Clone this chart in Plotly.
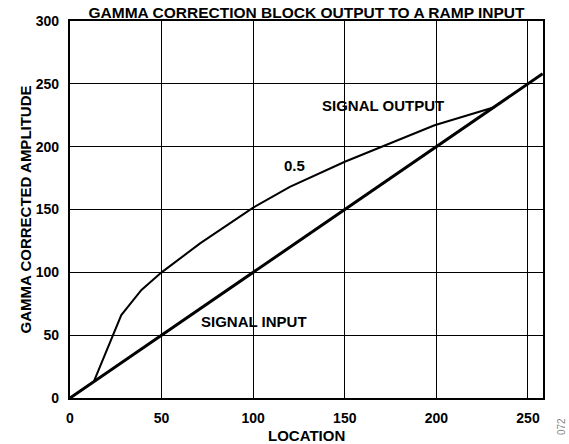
import plotly.graph_objects as go

# Ramp input (identity) and the gamma-corrected output (gamma = 0.5)
input_x = [0, 258]
input_y = [0, 258]

output_x = [0, 13, 28, 39, 50, 71, 100, 120, 150, 169, 199, 232]
output_y = [0, 13, 66, 86, 100, 123, 151.5, 168, 188, 199, 217, 231.5]

x_ticks = [0, 50, 100, 150, 200, 250]
y_ticks = [0, 50, 100, 150, 200, 250, 300]

FONT = "Liberation Sans, Arial, Helvetica, sans-serif"
W, H = 569, 444
L, R, T, B = 70, 26, 21, 46
pw, ph = W - L - R, H - T - B


def px_x(x):
    """Pixel column -> paper x."""
    return (x - L) / pw


def px_y(y):
    """Pixel row (from top) -> paper y."""
    return (H - B - y) / ph


fig = go.Figure()
fig.add_trace(go.Scatter(x=output_x, y=output_y, mode="lines",
                         line=dict(color="black", width=2), showlegend=False,
                         hoverinfo="skip"))
fig.add_trace(go.Scatter(x=input_x, y=input_y, mode="lines",
                         line=dict(color="black", width=3), showlegend=False,
                         hoverinfo="skip"))

bold = dict(family=FONT, color="black", weight="bold")

fig.update_layout(
    width=W, height=H,
    margin=dict(l=L, r=R, t=T, b=B, autoexpand=False),
    paper_bgcolor="white", plot_bgcolor="white",
    title=dict(text="GAMMA CORRECTION BLOCK OUTPUT TO A RAMP INPUT",
               font=dict(size=15.5, **bold),
               x=0.5, xref="paper", xanchor="center",
               y=1 - 12.7 / H, yref="container", yanchor="middle"),
    xaxis=dict(range=[0, 258.2], tickvals=x_ticks, showgrid=True,
               gridcolor="black", gridwidth=1.4, zeroline=False,
               showline=True, linecolor="black", linewidth=2.3, mirror=True,
               ticks="", ticklabelstandoff=6, automargin=False,
               tickfont=dict(size=14, **bold)),
    yaxis=dict(range=[0, 300], tickvals=y_ticks, showgrid=True,
               gridcolor="black", gridwidth=1.4, zeroline=False,
               showline=True, linecolor="black", linewidth=2.3, mirror=True,
               ticks="", ticklabelstandoff=6, automargin=False,
               tickfont=dict(size=14, **bold)),
)

title_font = dict(size=15, **bold)
# axis titles
fig.add_annotation(x=0.5, y=px_y(435), xref="paper", yref="paper",
                   text="LOCATION", showarrow=False, font=title_font,
                   xanchor="center", yanchor="middle")
fig.add_annotation(x=px_x(25), y=0.5, xref="paper", yref="paper",
                   text="GAMMA CORRECTED AMPLITUDE", showarrow=False,
                   font=title_font, textangle=-90,
                   xanchor="center", yanchor="middle")

# curve labels
fig.add_annotation(x=171, y=232.5, text="SIGNAL OUTPUT", showarrow=False,
                   font=title_font, xanchor="center", yanchor="middle")
fig.add_annotation(x=122.4, y=185, text="0.5", showarrow=False,
                   font=title_font, xanchor="center", yanchor="middle")
fig.add_annotation(x=100.7, y=60.5, text="SIGNAL INPUT", showarrow=False,
                   font=title_font, xanchor="center", yanchor="middle")

# small figure id in the bottom-right corner, outside the plot area
fig.add_annotation(x=px_x(561), y=px_y(427), xref="paper", yref="paper",
                   text="072", showarrow=False, textangle=-90,
                   font=dict(family=FONT, size=10, color="#888"),
                   xanchor="center", yanchor="middle")

fig.write_html("out.html")
